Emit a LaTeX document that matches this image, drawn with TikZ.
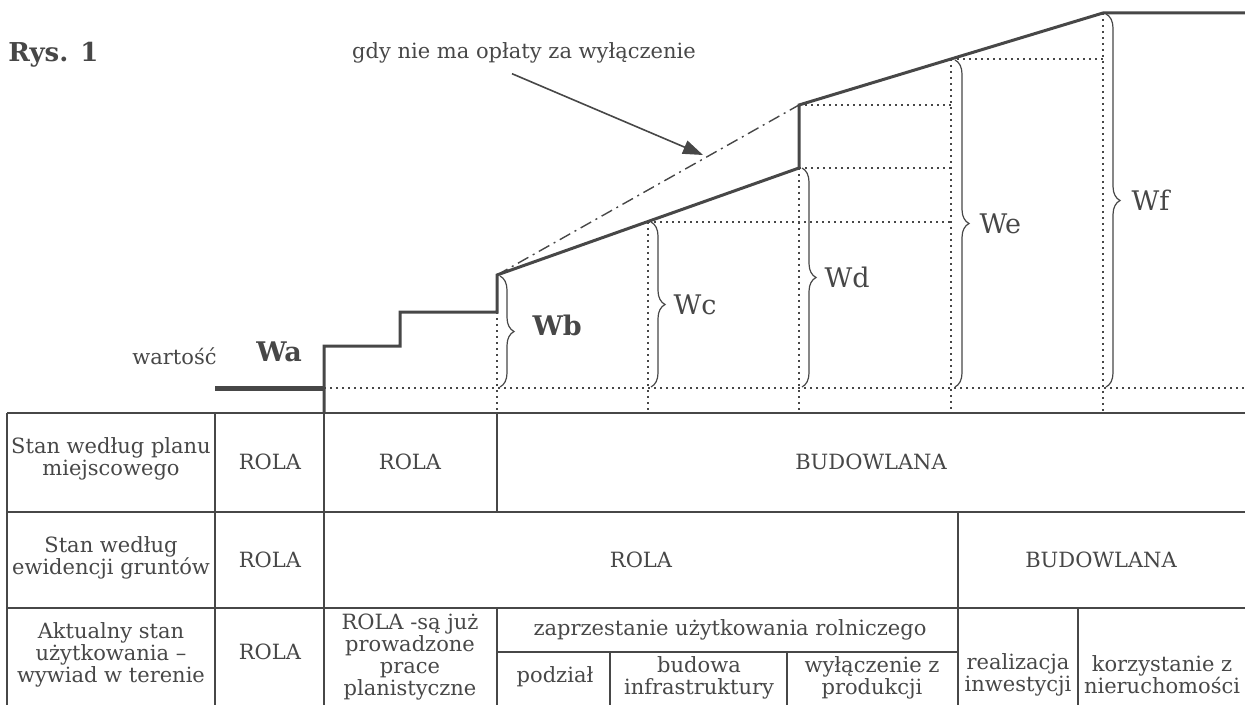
\documentclass[tikz,border=0pt]{standalone}
\usepackage{fontspec}
\setmainfont{DejaVu Serif}
\usetikzlibrary{arrows.meta}
\usetikzlibrary{decorations.pathreplacing}
\definecolor{ink}{gray}{0.28}

\tikzset{
  gridline/.style = {draw=ink, line width=1pt},
  profile/.style = {draw=ink, line width=1.5pt, line join=miter},
  guide/.style = {draw=ink, line width=0.6pt, dash pattern=on 0.8pt off 2.2pt},
  wbrace/.style = {draw=ink, line width=0.6pt, decorate, decoration={brace, amplitude=7pt}},
  cell/.style = {text=ink, align=center, inner sep=0pt, font=\fontsize{10.5}{11}\selectfont},
  wlabel/.style = {text=ink, anchor=west, inner sep=0pt, xshift=11pt, font=\fontsize{13.5}{14}\selectfont},
}

\begin{document}
\begin{tikzpicture}[x=0.5pt, y=-0.5pt]
    \useasboundingbox (0,0) rectangle (1245,705);

    % title and remark
    \node[text=ink, anchor=west, inner sep=0pt, font={\fontsize{13}{14}\selectfont\bfseries}] (title) at (8,55) {Rys. 1};
    \node[cell] (note) at (524,53) {gdy nie ma opłaty za wyłączenie};
    \coordinate (notetip) at (703,155);
    \draw[ink, line width=0.8pt, -{Triangle[length=10pt,width=7pt]}] ([xshift=-6pt,yshift=-5pt]note.south) -- (notetip);

    % value axis
    \node[cell, anchor=east] (wartosc) at (217,356) {wartość};
    \node[text=ink, inner sep=0pt, font={\fontsize{13.5}{14}\selectfont\bfseries}] (wa) at (279,352) {Wa};
    \draw[ink, line width=2.5pt] (215,388) -- (324,388);

    % guide lines
    \draw[guide] (324,388) -- (1245,388);
    \draw[guide] (497,312) -- (497,413);
    \draw[guide] (648,222) -- (648,413) (648,222) -- (951,222);
    \draw[guide] (799,168) -- (799,413) (799,168) -- (951,168) (799,105) -- (951,105);
    \draw[guide] (951,59) -- (951,413) (951,59) -- (1103,59);
    \draw[guide] (1103,13) -- (1103,413);

    % value profile
    \draw[ink, line width=0.7pt, dash pattern=on 6pt off 2.5pt on 1pt off 2.5pt] (497,275) -- (799,105);
    \draw[profile] (324,413) -- (324,346) -- (400,346) -- (400,312) -- (497,312) -- (497,275)
        -- (799,168) -- (799,105) -- (1103,13) -- (1245,13);

    % braces
    \draw[wbrace] (500,276) -- node[wlabel, xshift=5pt, yshift=3pt, font={\fontsize{13.5}{14}\selectfont\bfseries}] (wb) {Wb} (500,387);
    \draw[wbrace] (651,222) -- node[wlabel] (wc) {Wc} (651,387);
    \draw[wbrace] (802,168) -- node[wlabel] (wd) {Wd} (802,387);
    \draw[wbrace] (955,60) -- node[wlabel, xshift=1pt] (we) {We} (955,387);
    \draw[wbrace] (1106,14) -- node[wlabel, xshift=1.5pt] (wf) {Wf} (1106,387);

    % table
    \draw[gridline] (7,413) -- (1245,413) (7,512) -- (1245,512) (7,608) -- (1245,608) (497,652) -- (958,652);
    \draw[gridline] (7,413) -- (7,705) (215,413) -- (215,705) (324,413) -- (324,705);
    \draw[gridline] (497,413) -- (497,512) (497,608) -- (497,705) (958,512) -- (958,705);
    \draw[gridline] (1078,608) -- (1078,705) (610,652) -- (610,705) (787,652) -- (787,705);

    \node[cell] (plan) at (111,459) {Stan według planu\\miejscowego};
    \node[cell] (planrola) at (270,462) {ROLA};
    \node[cell] (planrolb) at (410,462) {ROLA};
    \node[cell] (planbud) at (871,462) {BUDOWLANA};

    \node[cell] (ewid) at (111,558) {Stan według\\ewidencji gruntów};
    \node[cell] (ewidrola) at (270,560) {ROLA};
    \node[cell] (ewidrolb) at (641,560) {ROLA};
    \node[cell] (ewidbud) at (1101,560) {BUDOWLANA};

    \node[cell] (akt) at (111,655) {Aktualny stan\\użytkowania –\\wywiad w terenie};
    \node[cell] (aktrola) at (270,652) {ROLA};
    \node[cell] (aktprace) at (410,657) {ROLA -są już\\prowadzone\\prace\\planistyczne};
    \node[cell] (aktzaprz) at (730,630) {zaprzestanie użytkowania rolniczego};
    \node[cell] (aktpodz) at (555,677) {podział};
    \node[cell] (aktinfra) at (699,678) {budowa\\infrastruktury};
    \node[cell] (aktwyl) at (872,678) {wyłączenie z\\produkcji};
    \node[cell] (aktreal) at (1018,675) {realizacja\\inwestycji};
    \node[cell] (aktkorz) at (1162,675) {korzystanie z\\nieruchomości};
\end{tikzpicture}
\end{document}
